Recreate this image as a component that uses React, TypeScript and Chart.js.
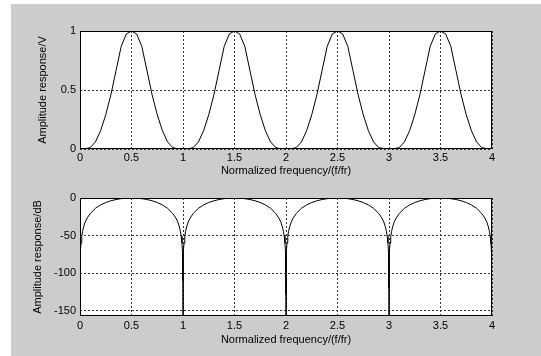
import { useEffect, useRef } from "react";
import { Chart, registerables } from "chart.js";
Chart.register(...registerables);

const freqTicks = [0, 0.5, 1, 1.5, 2, 2.5, 3, 3.5, 4];
const ampTicks = [0, 0.5, 1];
const dbTicks = [-150, -100, -50, 0];

const ampFreq = [
  0, 0.05, 0.1, 0.15, 0.2, 0.25, 0.3, 0.35, 0.4, 0.45, 0.5, 0.55, 0.6, 0.65, 0.7, 0.75, 0.8, 0.85, 0.9, 0.95,
  1, 1.05, 1.1, 1.15, 1.2, 1.25, 1.3, 1.35, 1.4, 1.45, 1.5, 1.55, 1.6, 1.65, 1.7, 1.75, 1.8, 1.85, 1.9, 1.95,
  2, 2.05, 2.1, 2.15, 2.2, 2.25, 2.3, 2.35, 2.4, 2.45, 2.5, 2.55, 2.6, 2.65, 2.7, 2.75, 2.8, 2.85, 2.9, 2.95,
  3, 3.05, 3.1, 3.15, 3.2, 3.25, 3.3, 3.35, 3.4, 3.45, 3.5, 3.55, 3.6, 3.65, 3.7, 3.75, 3.8, 3.85, 3.9, 3.95,
  4,
];
const ampValue = [
  0, 0.002, 0.012, 0.06, 0.155, 0.29, 0.46, 0.665, 0.87, 0.975, 1, 0.975, 0.87, 0.665, 0.46, 0.29, 0.155, 0.06, 0.012, 0.002,
  0, 0.002, 0.012, 0.06, 0.155, 0.29, 0.46, 0.665, 0.87, 0.975, 1, 0.975, 0.87, 0.665, 0.46, 0.29, 0.155, 0.06, 0.012, 0.002,
  0, 0.002, 0.012, 0.06, 0.155, 0.29, 0.46, 0.665, 0.87, 0.975, 1, 0.975, 0.87, 0.665, 0.46, 0.29, 0.155, 0.06, 0.012, 0.002,
  0, 0.002, 0.012, 0.06, 0.155, 0.29, 0.46, 0.665, 0.87, 0.975, 1, 0.975, 0.87, 0.665, 0.46, 0.29, 0.155, 0.06, 0.012, 0.002,
  0,
];

const dbFreq = [
  0.001, 0.002, 0.005, 0.01, 0.017, 0.025, 0.035, 0.05, 0.07, 0.1, 0.15, 0.2, 0.25, 0.3, 0.35, 0.4, 0.45, 0.5,
  0.55, 0.6, 0.65, 0.7, 0.75, 0.8, 0.85, 0.9, 0.93, 0.95, 0.965, 0.975, 0.983, 0.99, 0.995, 0.998, 0.999,
  1,
  1.001, 1.002, 1.005, 1.01, 1.017, 1.025, 1.035, 1.05, 1.07, 1.1, 1.15, 1.2, 1.25, 1.3, 1.35, 1.4, 1.45, 1.5,
  1.55, 1.6, 1.65, 1.7, 1.75, 1.8, 1.85, 1.9, 1.93, 1.95, 1.965, 1.975, 1.983, 1.99, 1.995, 1.998, 1.999,
  2,
  2.001, 2.002, 2.005, 2.01, 2.017, 2.025, 2.035, 2.05, 2.07, 2.1, 2.15, 2.2, 2.25, 2.3, 2.35, 2.4, 2.45, 2.5,
  2.55, 2.6, 2.65, 2.7, 2.75, 2.8, 2.85, 2.9, 2.93, 2.95, 2.965, 2.975, 2.983, 2.99, 2.995, 2.998, 2.999,
  3,
  3.001, 3.002, 3.005, 3.01, 3.017, 3.025, 3.035, 3.05, 3.07, 3.1, 3.15, 3.2, 3.25, 3.3, 3.35, 3.4, 3.45, 3.5,
  3.55, 3.6, 3.65, 3.7, 3.75, 3.8, 3.85, 3.9, 3.93, 3.95, 3.965, 3.975, 3.983, 3.99, 3.995, 3.998, 3.999,
];
const dbValue = [
  -108, -88, -72, -60, -51, -44.5, -38.5, -32, -26.5, -20.5, -13.7, -9.2, -6, -3.7, -2, -0.9, -0.2, 0,
  -0.2, -0.9, -2, -3.7, -6, -9.2, -13.7, -20.5, -26.5, -32, -38.5, -44.5, -51, -60, -72, -88, -110,
  -400,
  -110, -88, -72, -60, -51, -44.5, -38.5, -32, -26.5, -20.5, -13.7, -9.2, -6, -3.7, -2, -0.9, -0.2, 0,
  -0.2, -0.9, -2, -3.7, -6, -9.2, -13.7, -20.5, -26.5, -32, -38.5, -44.5, -51, -60, -72, -88, -128,
  -400,
  -100, -88, -72, -60, -51, -44.5, -38.5, -32, -26.5, -20.5, -13.7, -9.2, -6, -3.7, -2, -0.9, -0.2, 0,
  -0.2, -0.9, -2, -3.7, -6, -9.2, -13.7, -20.5, -26.5, -32, -38.5, -44.5, -51, -60, -72, -88, -120,
  -400,
  -115, -88, -72, -60, -51, -44.5, -38.5, -32, -26.5, -20.5, -13.7, -9.2, -6, -3.7, -2, -0.9, -0.2, 0,
  -0.2, -0.9, -2, -3.7, -6, -9.2, -13.7, -20.5, -26.5, -32, -38.5, -44.5, -51, -60, -72, -88, -132,
];

const FONT = { family: "'Liberation Sans', Arial, sans-serif", size: 11 };

const framePlugin = {
  id: "frame",
  beforeDraw(chart: any) {
    const { ctx, chartArea: a } = chart;
    ctx.save();
    ctx.fillStyle = "#ffffff";
    ctx.fillRect(a.left, a.top, a.right - a.left, a.bottom - a.top);
    ctx.restore();
  },
  afterDraw(chart: any) {
    const { ctx, chartArea: a } = chart;
    ctx.save();
    ctx.strokeStyle = "#000";
    ctx.lineWidth = 1;
    ctx.strokeRect(a.left + 0.5, a.top + 0.5, a.right - a.left - 1, a.bottom - a.top - 1);
    ctx.restore();
  },
};

function makeChart(
  canvas: HTMLCanvasElement,
  xs: number[],
  ys: number[],
  yTicks: number[],
  yMin: number,
  yMax: number,
  yTitle: string,
  cfg: { top: number; bottom: number; xTickPad: number; xTitleOffset: number; yTitleX: number }
) {
  const H = 178;
  return new Chart(canvas, {
    type: "line",
    data: {
      datasets: [
        {
          data: xs.map((x, i) => ({ x, y: ys[i] })),
          borderColor: "#000",
          borderWidth: 1,
          pointRadius: 0,
          tension: 0,
          fill: false,
        },
      ],
    },
    options: {
      responsive: false,
      animation: false,
      layout: { padding: { top: cfg.top, right: 541 - 492, bottom: 0, left: 0 } },
      plugins: { legend: { display: false }, tooltip: { enabled: false } },
      scales: {
        x: {
          type: "linear",
          min: 0,
          max: 4,
          afterBuildTicks: (s: any) => {
            s.ticks = freqTicks.map((v) => ({ value: v }));
          },
          afterFit: (s: any) => {
            s.height = H - cfg.bottom;
          },
          grid: { color: "#333", lineWidth: 1, drawTicks: false },
          border: { display: false, dash: [2, 2] },
          ticks: {
            color: "#000",
            font: FONT,
            padding: cfg.xTickPad,
            maxRotation: 0,
            autoSkip: false,
            callback: (v: any) => String(v),
          },
          title: {
            display: true,
            text: "Normalized frequency/(f/fr)",
            color: "#000",
            font: FONT,
            padding: { top: 0, bottom: Math.max(0, cfg.xTitleOffset - 6.6) },
          },
        },
        y: {
          type: "linear",
          min: yMin,
          max: yMax,
          afterBuildTicks: (s: any) => {
            s.ticks = yTicks.map((v) => ({ value: v }));
          },
          afterFit: (s: any) => {
            s.width = 80;
          },
          grid: { color: "#333", lineWidth: 1, drawTicks: false },
          border: { display: false, dash: [2, 2] },
          ticks: { color: "#000", font: FONT, padding: 4, autoSkip: false, callback: (v: any) => String(v) },
          title: {
            display: true,
            text: yTitle,
            color: "#000",
            font: FONT,
            padding: { top: cfg.yTitleX - 6.6, bottom: 0 },
          },
        },
      },
    },
    plugins: [framePlugin],
  } as any);
}

export default function App() {
  const ref1 = useRef<HTMLCanvasElement>(null);
  const ref2 = useRef<HTMLCanvasElement>(null);

  useEffect(() => {
    const c1 = makeChart(ref1.current!, ampFreq, ampValue, ampTicks, 0, 1, "Amplitude response/V", {
      top: 31,
      bottom: 149,
      xTickPad: 2,
      xTitleOffset: 7,
      yTitleX: 43,
    });
    const c2 = makeChart(ref2.current!, dbFreq, dbValue, dbTicks, -157, 0, "Amplitude response/dB", {
      top: 20,
      bottom: 138,
      xTickPad: 3,
      xTitleOffset: 16,
      yTitleX: 38,
    });
    return () => {
      c1.destroy();
      c2.destroy();
    };
  }, []);

  return (
    <div style={{ position: "fixed", left: 0, top: 0, width: 541, height: 356, background: "#ffffff", overflow: "hidden" }}>
      <div style={{ position: "absolute", left: 11, top: 4, width: 530, height: 352, background: "#cccccc" }} />
      <canvas ref={ref1} width={541} height={178} style={{ position: "absolute", left: 0, top: 0, width: 541, height: 178 }} />
      <canvas ref={ref2} width={541} height={178} style={{ position: "absolute", left: 0, top: 178, width: 541, height: 178 }} />
    </div>
  );
}
